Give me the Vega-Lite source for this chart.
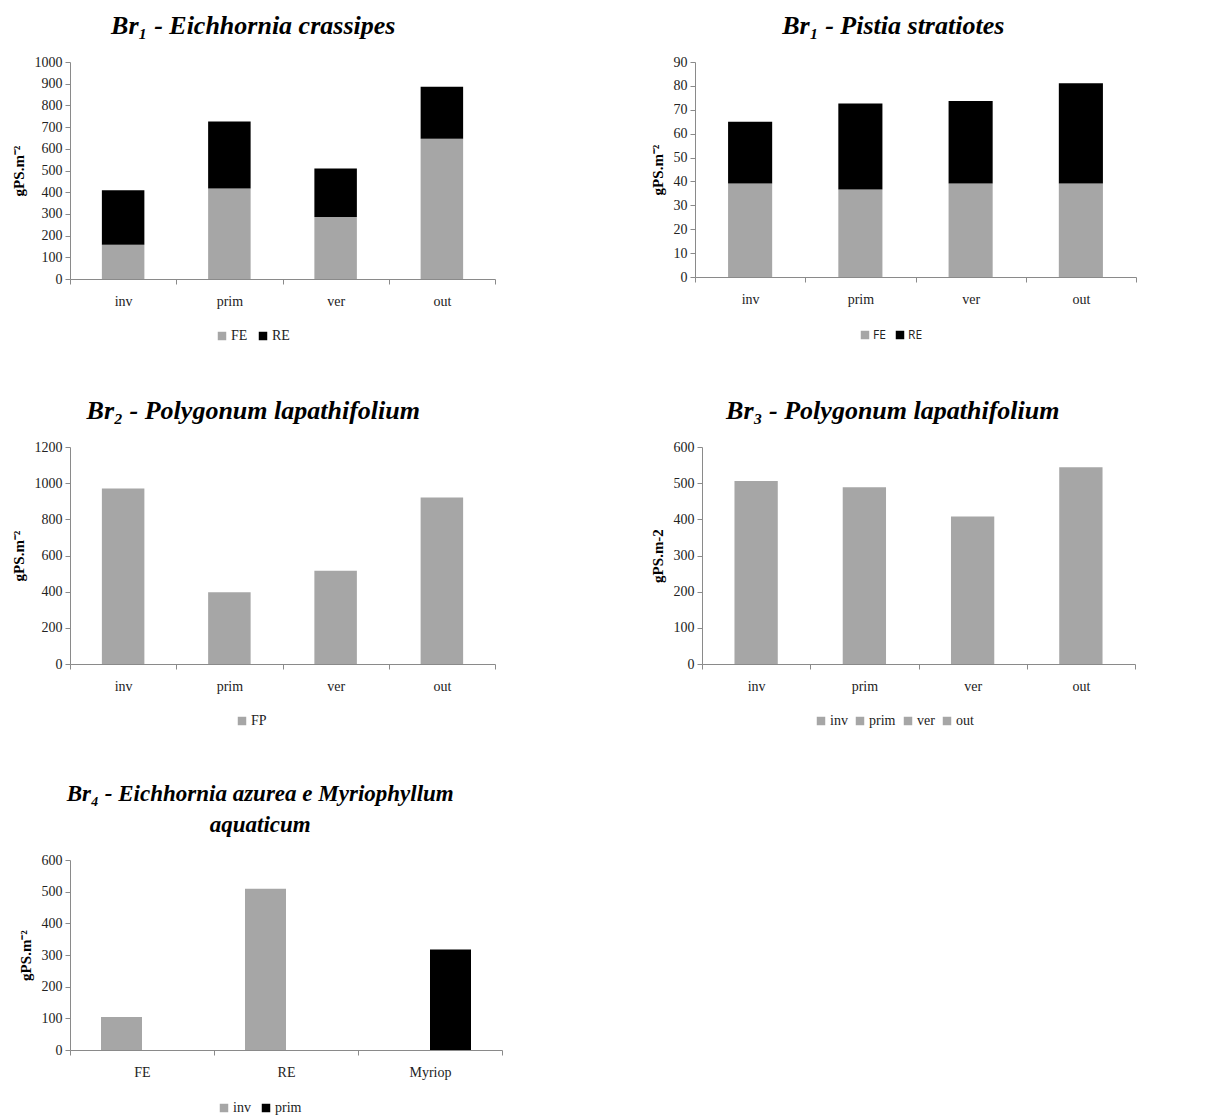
{
  "$schema": "https://vega.github.io/schema/vega-lite/v6.json",
  "background": "white",
  "padding": {"left": 11, "top": 13, "right": 5, "bottom": 5},
  "datasets": {
    "br1e": [
      {"season": "inv", "part": "FE", "v": 158}, {"season": "inv", "part": "RE", "v": 251},
      {"season": "prim", "part": "FE", "v": 417}, {"season": "prim", "part": "RE", "v": 309},
      {"season": "ver", "part": "FE", "v": 286}, {"season": "ver", "part": "RE", "v": 223},
      {"season": "out", "part": "FE", "v": 646}, {"season": "out", "part": "RE", "v": 240}
    ],
    "br1p": [
      {"season": "inv", "part": "FE", "v": 39.1}, {"season": "inv", "part": "RE", "v": 25.9},
      {"season": "prim", "part": "FE", "v": 36.6}, {"season": "prim", "part": "RE", "v": 36.0},
      {"season": "ver", "part": "FE", "v": 39.1}, {"season": "ver", "part": "RE", "v": 34.6},
      {"season": "out", "part": "FE", "v": 39.1}, {"season": "out", "part": "RE", "v": 42.0}
    ],
    "br2": [
      {"season": "inv", "serie": "FP", "v": 970}, {"season": "prim", "serie": "FP", "v": 397},
      {"season": "ver", "serie": "FP", "v": 515}, {"season": "out", "serie": "FP", "v": 921}
    ],
    "br3": [
      {"season": "inv", "v": 506}, {"season": "prim", "v": 489},
      {"season": "ver", "v": 408}, {"season": "out", "v": 544}
    ],
    "br4": [
      {"part": "FE", "season": "inv", "v": 104},
      {"part": "RE", "season": "inv", "v": 509},
      {"part": "Myriop", "season": "prim", "v": 317}
    ]
  },
  "config": {
    "view": {"stroke": null},
    "font": "Liberation Serif",
    "axis": {
      "labelFont": "Liberation Serif", "labelFontSize": 14, "labelColor": "#222",
      "domainColor": "#8a8a8a", "tickColor": "#8a8a8a", "grid": false,
      "titleFont": "Liberation Serif", "titleFontSize": 15, "titleFontWeight": "bold", "titleColor": "#000"
    },
    "axisX": {"labelAngle": 0, "tickBand": "extent", "tickSize": 5, "labelPadding": 10},
    "axisY": {"tickSize": 5, "labelPadding": 3, "titlePadding": 8, "format": "d"},
    "legend": {
      "orient": "none", "direction": "horizontal", "symbolType": "square", "symbolSize": 72,
      "symbolStrokeWidth": 0, "labelFont": "Liberation Serif", "labelFontSize": 14, "labelColor": "#222",
      "labelOffset": 2, "columnPadding": 8, "padding": 0
    },
    "title": {"font": "Liberation Serif", "fontSize": 26, "fontWeight": "bold", "fontStyle": "italic", "color": "#000", "offset": 16, "frame": "bounds",
              "subtitleFont": "Liberation Serif", "subtitleFontSize": 23, "subtitleFontWeight": "bold", "subtitleFontStyle": "italic", "subtitleColor": "#000", "subtitlePadding": 8}
  },
  "columns": 1,
  "spacing": 55,
  "align": "none",
  "resolve": {"scale": {"color": "independent", "x": "independent", "y": "independent"}, "legend": {"color": "independent"}},
  "concat": [
    {
      "columns": 1,
      "spacing": 55,
      "align": "none",
      "resolve": {"scale": {"color": "independent", "x": "independent", "y": "independent"}, "legend": {"color": "independent"}},
      "concat": [
        {
          "spacing": 154,
          "resolve": {"scale": {"color": "independent", "x": "independent", "y": "independent"}, "legend": {"color": "independent"}},
          "hconcat": [
            {
              "title": "Br₁ - Eichhornia crassipes",
              "width": 425, "height": 217,
              "data": {"name": "br1e"},
              "mark": {"type": "bar", "width": {"band": 0.4}},
              "encoding": {
                "x": {"field": "season", "type": "nominal", "sort": ["inv", "prim", "ver", "out"], "title": null,
                      "scale": {"paddingInner": 0, "paddingOuter": 0}},
                "y": {"field": "v", "type": "quantitative", "stack": "zero", "title": "gPS.m⁻²",
                      "scale": {"domain": [0, 1000], "nice": false},
                      "axis": {"values": [0, 100, 200, 300, 400, 500, 600, 700, 800, 900, 1000]}},
                "color": {"field": "part", "type": "nominal", "title": null,
                          "scale": {"domain": ["FE", "RE"], "range": ["#a6a6a6", "#000000"]},
                          "legend": {"legendX": 145, "legendY": 267}},
                "order": {"field": "part", "sort": "ascending"}
              }
            },
            {
              "title": "Br₁ - Pistia stratiotes",
              "width": 441, "height": 215,
              "data": {"name": "br1p"},
              "mark": {"type": "bar", "width": {"band": 0.4}},
              "encoding": {
                "x": {"field": "season", "type": "nominal", "sort": ["inv", "prim", "ver", "out"], "title": null,
                      "scale": {"paddingInner": 0, "paddingOuter": 0}},
                "y": {"field": "v", "type": "quantitative", "stack": "zero", "title": "gPS.m⁻²",
                      "scale": {"domain": [0, 90], "nice": false},
                      "axis": {"values": [0, 10, 20, 30, 40, 50, 60, 70, 80, 90]}},
                "color": {"field": "part", "type": "nominal", "title": null,
                          "scale": {"domain": ["FE", "RE"], "range": ["#a6a6a6", "#000000"]},
                          "legend": {"labelFont": "Open Sans", "labelFontSize": 12, "legendX": 164, "legendY": 267}},
                "order": {"field": "part", "sort": "ascending"}
              }
            }
          ]
        },
        {
          "spacing": 154,
          "resolve": {"scale": {"color": "independent", "x": "independent", "y": "independent"}, "legend": {"color": "independent"}},
          "hconcat": [
            {
              "title": "Br₂ - Polygonum lapathifolium",
              "width": 425, "height": 217,
              "data": {"name": "br2"},
              "mark": {"type": "bar", "width": {"band": 0.4}},
              "encoding": {
                "x": {"field": "season", "type": "nominal", "sort": ["inv", "prim", "ver", "out"], "title": null,
                      "scale": {"paddingInner": 0, "paddingOuter": 0}},
                "y": {"field": "v", "type": "quantitative", "title": "gPS.m⁻²",
                      "scale": {"domain": [0, 1200], "nice": false},
                      "axis": {"values": [0, 200, 400, 600, 800, 1000, 1200]}},
                "color": {"field": "serie", "type": "nominal", "title": null,
                          "scale": {"domain": ["FP"], "range": ["#a6a6a6"]},
                          "legend": {"legendX": 165, "legendY": 267}}
              }
            },
            {
              "title": "Br₃ - Polygonum lapathifolium",
              "width": 433, "height": 217,
              "data": {"name": "br3"},
              "mark": {"type": "bar", "width": {"band": 0.4}},
              "encoding": {
                "x": {"field": "season", "type": "nominal", "sort": ["inv", "prim", "ver", "out"], "title": null,
                      "scale": {"paddingInner": 0, "paddingOuter": 0}},
                "y": {"field": "v", "type": "quantitative", "title": "gPS.m-2",
                      "scale": {"domain": [0, 600], "nice": false},
                      "axis": {"values": [0, 100, 200, 300, 400, 500, 600]}},
                "color": {"field": "season", "type": "nominal", "title": null, "sort": ["inv", "prim", "ver", "out"],
                          "scale": {"domain": ["inv", "prim", "ver", "out"], "range": ["#a6a6a6", "#a6a6a6", "#a6a6a6", "#a6a6a6"]},
                          "legend": {"legendX": 112, "legendY": 267, "columnPadding": 5}}
              }
            }
          ]
        }
      ]
    },
    {
      "title": {"text": "Br₄ - Eichhornia azurea e Myriophyllum", "subtitle": "aquaticum", "fontSize": 23},
      "width": 432, "height": 190,
      "data": {"name": "br4"},
      "mark": {"type": "bar"},
      "encoding": {
        "x": {"field": "part", "type": "nominal", "sort": ["FE", "RE", "Myriop"], "title": null,
              "scale": {"paddingInner": 0, "paddingOuter": 0}},
        "xOffset": {"field": "season", "type": "nominal",
                    "scale": {"domain": ["inv", "prim"], "paddingInner": 0, "paddingOuter": 0.756}},
        "y": {"field": "v", "type": "quantitative", "title": "gPS.m⁻²",
              "scale": {"domain": [0, 600], "nice": false},
              "axis": {"values": [0, 100, 200, 300, 400, 500, 600]}},
        "color": {"field": "season", "type": "nominal", "title": null,
                  "scale": {"domain": ["inv", "prim"], "range": ["#a6a6a6", "#000000"]},
                  "legend": {"legendX": 147, "legendY": 241}}
      }
    }
  ]
}
